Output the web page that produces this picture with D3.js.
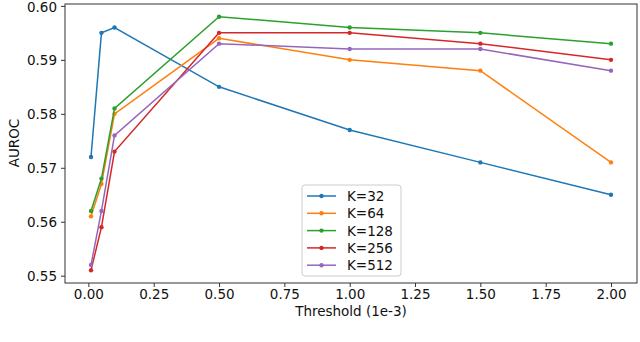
<!DOCTYPE html>
<html><head><meta charset="utf-8">
<script src="https://cdn.jsdelivr.net/npm/d3@7"></script>
<style>body{margin:0;background:#fff}svg{display:block}text{font-family:"DejaVu Sans",sans-serif}</style>
</head><body><svg id="c" width="640" height="342"></svg>
<script>
const thresholds = [0.01, 0.05, 0.1, 0.5, 1.0, 1.5, 2.0];
const k32  = [0.572, 0.595, 0.596, 0.585, 0.577, 0.571, 0.565];
const k64  = [0.561, 0.567, 0.580, 0.594, 0.590, 0.588, 0.571];
const k128 = [0.562, 0.568, 0.581, 0.598, 0.596, 0.595, 0.593];
const k256 = [0.551, 0.559, 0.573, 0.595, 0.595, 0.593, 0.590];
const k512 = [0.552, 0.562, 0.576, 0.593, 0.592, 0.592, 0.588];
const seriesNames = ["K=32", "K=64", "K=128", "K=256", "K=512"];
const colors = ["#1f77b4", "#ff7f0e", "#2ca02c", "#d62728", "#9467bd"];
const xTicks = [0.00, 0.25, 0.50, 0.75, 1.00, 1.25, 1.50, 1.75, 2.00];
const yTicks = [0.55, 0.56, 0.57, 0.58, 0.59, 0.60];
const series = [k32, k64, k128, k256, k512];

const svg = d3.select("#c");
const L = 65, R = 637, T = 4, B = 283;
const xr = [0.01, 2.0], yr = [0.551, 0.598];
const xm = (xr[1]-xr[0])*0.05, ym = (yr[1]-yr[0])*0.05;
const x = d3.scaleLinear().domain([xr[0]-xm, xr[1]+xm]).range([L, R]);
const y = d3.scaleLinear().domain([yr[0]-ym, yr[1]+ym]).range([B, T]);

const xa = svg.append("g").attr("transform", `translate(0,${B})`)
  .call(d3.axisBottom(x).tickValues(xTicks).tickFormat(d3.format(".2f")).tickSize(4).tickPadding(2));
const ya = svg.append("g").attr("transform", `translate(${L},0)`)
  .call(d3.axisLeft(y).tickValues(yTicks).tickFormat(d3.format(".2f")).tickSize(4).tickPadding(4));
[xa, ya].forEach(a => {
  a.selectAll("text").attr("font-size", 13.5).attr("fill", "#111").style("font-family", "DejaVu Sans");
  a.selectAll("line").attr("stroke", "#333");
  a.select(".domain").remove();
});
ya.selectAll("text").filter(d => d === 0.60).attr("dy", "0.4em");
svg.append("rect").attr("x", L).attr("y", T).attr("width", R-L).attr("height", B-T)
  .attr("fill", "none").attr("stroke", "#333").attr("stroke-width", 1);

const line = d3.line().x((d,i) => x(thresholds[i])).y(d => y(d));
series.forEach((s, si) => {
  svg.append("path").datum(s).attr("d", line).attr("fill", "none")
    .attr("stroke", colors[si]).attr("stroke-width", 1.5);
  svg.selectAll(null).data(s).enter().append("circle")
    .attr("cx", (d,i) => x(thresholds[i])).attr("cy", d => y(d)).attr("r", 2.2)
    .attr("fill", colors[si]);
});

svg.append("text").attr("x", 351).attr("y", 316).attr("text-anchor", "middle")
  .attr("font-size", 13.5).attr("fill", "#111").text("Threshold (1e-3)");
svg.append("text").attr("transform", "translate(19,143) rotate(-90)").attr("text-anchor", "middle")
  .attr("font-size", 13.5).attr("fill", "#111").text("AUROC");

const lg = svg.append("g");
lg.append("rect").attr("x", 302).attr("y", 185).attr("width", 99).attr("height", 91).attr("rx", 3)
  .attr("fill", "#fff").attr("fill-opacity", 0.8).attr("stroke", "#ccc");
seriesNames.forEach((n, i) => {
  const yy = 196 + i*17.3;
  lg.append("line").attr("x1", 307).attr("x2", 336).attr("y1", yy).attr("y2", yy)
    .attr("stroke", colors[i]).attr("stroke-width", 1.5);
  lg.append("circle").attr("cx", 321.5).attr("cy", yy).attr("r", 2.2).attr("fill", colors[i]);
  lg.append("text").attr("x", 347).attr("y", yy + 5).attr("font-size", 13.5).attr("fill", "#111").text(n);
});
</script></body></html>
